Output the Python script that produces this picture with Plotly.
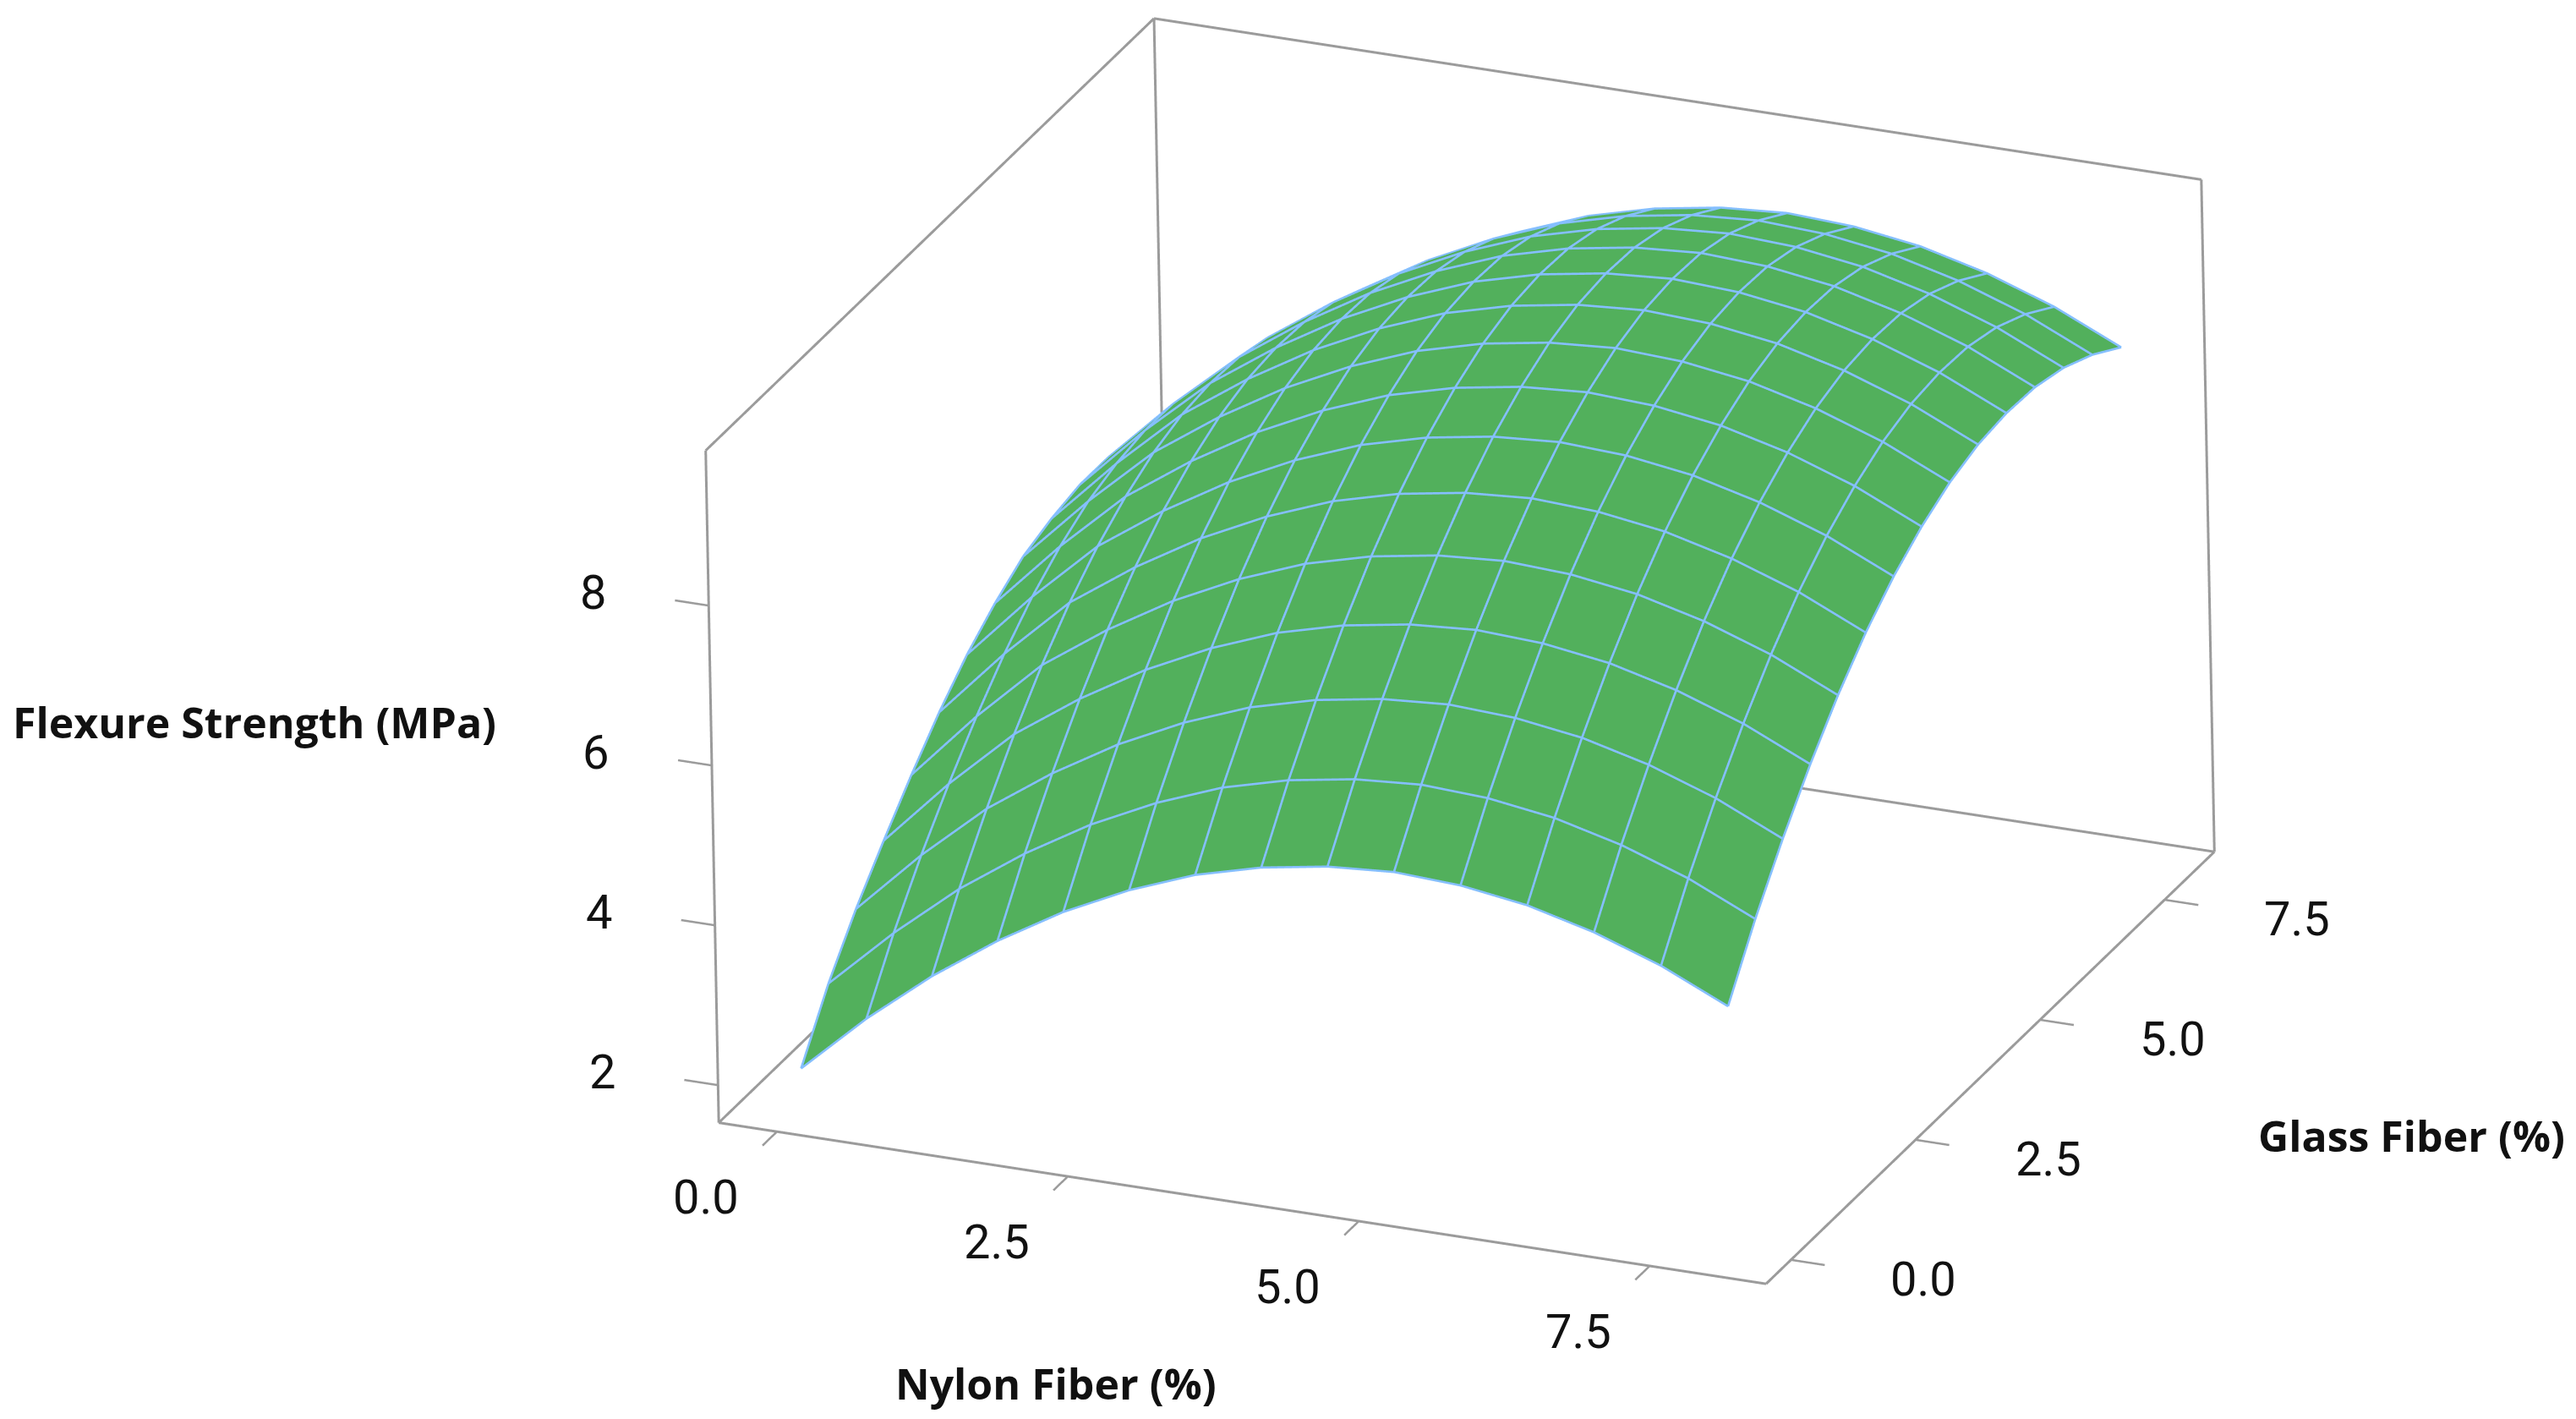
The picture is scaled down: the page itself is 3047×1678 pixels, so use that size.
import numpy as np
import plotly.graph_objects as go

nylon = [0, 0.571, 1.143, 1.714, 2.286, 2.857, 3.429, 4, 4.571, 5.143, 5.714, 6.286, 6.857, 7.429, 8]
glass = [0, 0.571, 1.143, 1.714, 2.286, 2.857, 3.429, 4, 4.571, 5.143, 5.714, 6.286, 6.857, 7.429, 8]
strength = [
    [2.02, 2.77, 3.43, 4.00, 4.49, 4.89, 5.21, 5.43, 5.57, 5.63, 5.59, 5.47, 5.26, 4.97, 4.59],
    [2.74, 3.50, 4.18, 4.75, 5.24, 5.64, 5.96, 6.18, 6.32, 6.38, 6.34, 6.22, 6.01, 5.72, 5.34],
    [3.33, 4.13, 4.84, 5.41, 5.90, 6.30, 6.62, 6.84, 6.98, 7.04, 7.00, 6.88, 6.67, 6.38, 6.00],
    [3.84, 4.68, 5.43, 6.00, 6.49, 6.89, 7.21, 7.43, 7.57, 7.63, 7.59, 7.47, 7.26, 6.97, 6.59],
    [4.32, 5.18, 5.95, 6.52, 7.01, 7.41, 7.73, 7.95, 8.09, 8.15, 8.11, 7.99, 7.78, 7.49, 7.11],
    [4.76, 5.62, 6.39, 6.96, 7.45, 7.85, 8.17, 8.39, 8.53, 8.59, 8.55, 8.43, 8.22, 7.93, 7.55],
    [5.14, 5.99, 6.75, 7.32, 7.81, 8.21, 8.53, 8.75, 8.89, 8.95, 8.91, 8.79, 8.58, 8.29, 7.91],
    [5.44, 6.28, 7.03, 7.60, 8.09, 8.49, 8.81, 9.03, 9.17, 9.23, 9.19, 9.07, 8.86, 8.57, 8.19],
    [5.68, 6.50, 7.24, 7.81, 8.30, 8.70, 9.02, 9.24, 9.38, 9.44, 9.40, 9.28, 9.07, 8.78, 8.40],
    [5.81, 6.63, 7.37, 7.94, 8.43, 8.83, 9.15, 9.37, 9.51, 9.57, 9.53, 9.41, 9.20, 8.91, 8.53],
    [5.89, 6.70, 7.42, 7.99, 8.48, 8.88, 9.20, 9.42, 9.56, 9.62, 9.58, 9.46, 9.25, 8.96, 8.58],
    [5.89, 6.69, 7.40, 7.97, 8.46, 8.86, 9.18, 9.40, 9.54, 9.60, 9.56, 9.44, 9.23, 8.94, 8.56],
    [5.79, 6.59, 7.30, 7.87, 8.36, 8.76, 9.08, 9.30, 9.44, 9.50, 9.46, 9.34, 9.13, 8.84, 8.46],
    [5.61, 6.41, 7.12, 7.69, 8.18, 8.58, 8.90, 9.12, 9.26, 9.32, 9.28, 9.16, 8.95, 8.66, 8.28],
    [5.36, 6.16, 6.87, 7.44, 7.93, 8.33, 8.65, 8.87, 9.01, 9.07, 9.03, 8.91, 8.70, 8.41, 8.03],
]
xy_ticks = [0, 2.5, 5, 7.5]
z_ticks = [2, 4, 6, 8]

# Box drawn around the data
x0, x1 = -0.5, 8.5
y0, y1 = -0.5, 8.5
z0, z1 = 1.53, 9.94
TICK = 0.29
PAD_XY = 0.4
PAD_Z = 0.1

GRAY = "#9B9B9B"
GREEN = "#52B05C"
BLUE = "#85BFFF"
INK = "#111111"

k = 1.766
scale = np.array([k / (x1 - x0), 1.01 * k / (y1 - y0), 0.645 * k / (z1 - z0)])
centre = np.array([(x0 + x1) / 2, (y0 + y1) / 2, (z0 + z1) / 2])
view = np.array([0.364, -0.8405, 0.4013])
view = view / np.linalg.norm(view)
PX = 761.4  # pixels per world unit at this camera


def ribbons(segments, width_px, color, lift_px=0.0):
    """Thin screen-facing strips along data-space segments, as one Mesh3d."""
    vx, vy, vz, ii, jj, kk = [], [], [], [], [], []
    half = width_px / 2 / PX
    lift = view * lift_px / PX
    for p, q in segments:
        a = (np.array(p, float) - centre) * scale
        b = (np.array(q, float) - centre) * scale
        n = np.cross(b - a, view)
        n = n / np.linalg.norm(n) * half
        base = len(vx)
        for c in (a - n + lift, a + n + lift, b + n + lift, b - n + lift):
            d = c / scale + centre
            vx.append(d[0]); vy.append(d[1]); vz.append(d[2])
        ii += [base, base]; jj += [base + 1, base + 2]; kk += [base + 2, base + 3]
    return go.Mesh3d(x=vx, y=vy, z=vz, i=ii, j=jj, k=kk, color=color, flatshading=True,
                     lighting=dict(ambient=1, diffuse=0, specular=0, roughness=1, fresnel=0),
                     hoverinfo="skip", showscale=False)


box_edges = [
    ((x0, y0, z0), (x1, y0, z0)), ((x1, y0, z0), (x1, y1, z0)),
    ((x1, y1, z0), (x0, y1, z0)), ((x0, y1, z0), (x0, y0, z0)),
    ((x0, y0, z0), (x0, y0, z1)), ((x1, y1, z0), (x1, y1, z1)),
    ((x0, y1, z0), (x0, y1, z1)), ((x0, y0, z1), (x0, y1, z1)),
    ((x0, y1, z1), (x1, y1, z1)),
]
tick_marks = (
    [((v, y0, z0), (v, y0 - TICK, z0)) for v in xy_ticks]
    + [((x1, v, z0), (x1 + TICK, v, z0)) for v in xy_ticks]
    + [((x0, y0, v), (x0 - TICK, y0, v)) for v in z_ticks]
)
mesh_lines = []
for j, gv in enumerate(glass):
    for i in range(len(nylon) - 1):
        mesh_lines.append(((nylon[i], gv, strength[j][i]), (nylon[i + 1], gv, strength[j][i + 1])))
for i, nv in enumerate(nylon):
    for j in range(len(glass) - 1):
        mesh_lines.append(((nv, glass[j], strength[j][i]), (nv, glass[j + 1], strength[j + 1][i])))

fig = go.Figure()
fig.add_trace(go.Surface(
    x=nylon, y=glass, z=strength, showscale=False,
    colorscale=[[0, GREEN], [1, GREEN]],
    lighting=dict(ambient=1, diffuse=0, specular=0, roughness=1, fresnel=0),
    contours=dict(x=dict(show=False, highlight=False), y=dict(show=False, highlight=False),
                  z=dict(show=False, highlight=False)),
    hoverinfo="skip",
))
fig.add_trace(ribbons(mesh_lines, 2.6, BLUE, lift_px=15))
fig.add_trace(ribbons(box_edges, 3, GRAY))
fig.add_trace(ribbons(tick_marks, 2.5, GRAY))


def axis(lo, hi):
    return dict(range=[lo, hi], autorange=False, visible=False, showbackground=False, showspikes=False)


tickf = dict(family="Roboto", size=56, color=INK)
scene_ann = []
for v in xy_ticks:
    scene_ann.append(dict(x=v, y=y0, z=z0, text=f"{v:.1f}", showarrow=False, xshift=-84, yshift=-78, font=tickf))
    scene_ann.append(dict(x=x1, y=v, z=z0, text=f"{v:.1f}", showarrow=False, xshift=157, yshift=-23, font=tickf))
for v in z_ticks:
    scene_ann.append(dict(x=x0, y=y0, z=v, text=str(v), showarrow=False, xshift=-137, yshift=15, font=tickf))

titlef = dict(family="Open Sans", size=50, color=INK)


def title(text, px, py):
    return dict(text=f"<b>{text}</b>", x=px / 3047, y=1 - py / 1678, xref="paper", yref="paper",
                xanchor="center", yanchor="middle", showarrow=False, font=titlef)


d = 3
fig.update_layout(
    width=3047, height=1678, paper_bgcolor="white",
    margin=dict(l=0, r=0, t=0, b=0),
    scene=dict(
        domain=dict(x=[0.1283, 1], y=[0.0918, 1]),
        aspectmode="manual",
        aspectratio=dict(
            x=scale[0] * (x1 - x0 + 2 * PAD_XY),
            y=scale[1] * (y1 - y0 + 2 * PAD_XY),
            z=scale[2] * (z1 - z0 + 2 * PAD_Z),
        ),
        camera=dict(
            projection=dict(type="orthographic"),
            center=dict(x=0, y=0, z=0),
            eye=dict(x=float(view[0]) * d, y=float(view[1]) * d, z=float(view[2]) * d),
            up=dict(x=-0.1416, y=0.3759, z=0.9158),
        ),
        xaxis=axis(x0 - PAD_XY, x1 + PAD_XY),
        yaxis=axis(y0 - PAD_XY, y1 + PAD_XY),
        zaxis=axis(z0 - PAD_Z, z1 + PAD_Z),
        annotations=scene_ann,
    ),
    annotations=[
        title("Flexure Strength (MPa)", 293, 846),
        title("Nylon Fiber (%)", 1241, 1628),
        title("Glass Fiber (%)", 2844, 1335),
    ],
)
fig.write_html("out.html")
